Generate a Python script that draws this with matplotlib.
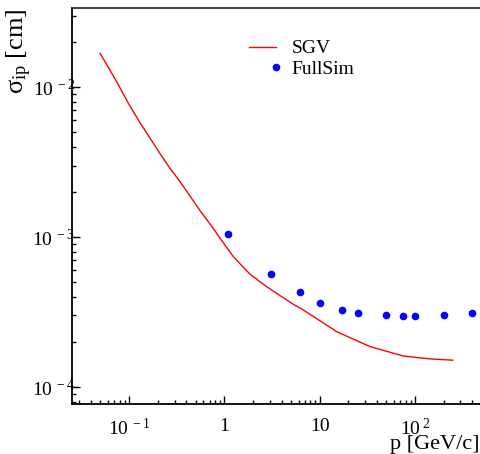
import numpy as np
import matplotlib.pyplot as plt
from matplotlib.ticker import LogLocator, FixedLocator, FixedFormatter, NullFormatter
from matplotlib.legend_handler import HandlerLine2D

plt.rcParams['font.family'] = ['Liberation Serif', 'DejaVu Serif']
plt.rcParams['mathtext.fontset'] = 'custom'
plt.rcParams['mathtext.rm'] = 'Liberation Serif'
plt.rcParams['mathtext.it'] = 'Liberation Serif:italic'

# SGV parametrisation
p_sgv = [0.0497, 0.0743, 0.0984, 0.130, 0.211, 0.269, 0.343, 0.556, 0.767,
         0.902, 1.245, 1.86, 2.79, 5.30, 6.75, 15.1, 33.8, 75.5, 144, 249]
sig_sgv = [1.68e-2, 1.084e-2, 7.79e-3, 5.8e-3, 3.61e-3, 2.87e-3, 2.34e-3,
           1.5e-3, 1.14e-3, 9.8e-4, 7.39e-4, 5.65e-4, 4.66e-4, 3.56e-4,
           3.26e-4, 2.34e-4, 1.86e-4, 1.61e-4, 1.54e-4, 1.51e-4]

# full simulation points
p_full = [1.1, 3.1, 6.2, 10, 17.3, 25, 50, 75, 100, 200, 400]
sig_full = [1.05e-3, 5.64e-4, 4.3e-4, 3.65e-4, 3.26e-4, 3.11e-4, 3.02e-4,
            2.99e-4, 2.98e-4, 3.0e-4, 3.13e-4]

xticks = [0.1, 1, 10, 100]
xticklabels = [r'$\mathregular{10^{\;-1}}$', '1', '10', r'$\mathregular{10^{\;2}}$']
yticks = [1e-4, 1e-3, 1e-2]
yticklabels = [r'$\mathregular{10^{\;-4}}$', r'$\mathregular{10^{\;-3}}$',
               r'$\mathregular{10^{\;-2}}$']


# ROOT puts the legend marker at the right end of the entry box
class MarkerRight(HandlerLine2D):
    def get_xdata(self, legend, xdescent, ydescent, width, height, fontsize):
        x = -xdescent + width
        return np.array([x, x]), np.array([x])


fig = plt.figure(figsize=(4.8, 4.54), dpi=100)
ax = fig.add_axes([0.15, 0.11, 0.85, 0.872])

ax.plot(p_sgv, sig_sgv, color='#ff0000', lw=1.0, label='SGV')
dots, = ax.plot(p_full, sig_full, 'o', color='#0000ff', ms=5.5, mec='none',
                label='FullSim')

ax.set_xscale('log')
ax.set_yscale('log')
ax.set_xlim(0.0252, 481)
ax.set_ylim(7.7e-5, 0.0336)

ax.xaxis.set_major_locator(FixedLocator(xticks))
ax.xaxis.set_major_formatter(FixedFormatter(xticklabels))
ax.yaxis.set_major_locator(FixedLocator(yticks))
ax.yaxis.set_major_formatter(FixedFormatter(yticklabels))
for a in (ax.xaxis, ax.yaxis):
    a.set_minor_locator(LogLocator(base=10, subs=np.arange(2, 10), numticks=20))
    a.set_minor_formatter(NullFormatter())

ax.tick_params(which='both', direction='in', top=False, right=False,
               labelsize=14, width=1.0)
ax.tick_params(which='major', length=6)
ax.tick_params(which='minor', length=3)
ax.tick_params(axis='y', pad=-2)
ax.tick_params(axis='x', pad=10)

for s in ('left', 'bottom'):
    ax.spines[s].set_linewidth(1.3)
ax.spines['top'].set_linewidth(1.3)
ax.spines['top'].set_color('#333333')
ax.spines['right'].set_visible(False)

ax.set_xlabel('p [GeV/c]', fontsize=16, loc='right', labelpad=-3)
ax.set_ylabel(r'$\mathregular{\sigma_{ip}}$ [cm]', fontsize=19, loc='top')
ax.yaxis.set_label_coords(-0.093, 1.0)

ax.legend(loc='upper left', bbox_to_anchor=(0.415, 0.94), frameon=False,
          fontsize=14, handlelength=1.4, handletextpad=0.8, labelspacing=0.15,
          borderaxespad=0, handler_map={dots: MarkerRight(numpoints=1)})

fig.savefig('out.png', dpi=100)
